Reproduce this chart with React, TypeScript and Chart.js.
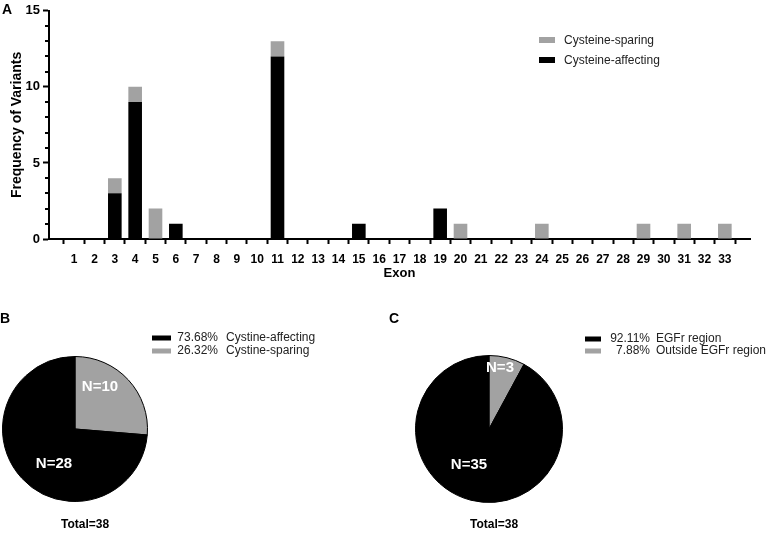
import React, { useEffect, useRef } from 'react';
import { Chart, registerables } from 'chart.js';

Chart.register(...registerables);

const FONT = '"Liberation Sans", Arial, Helvetica, sans-serif';
Chart.defaults.font.family = FONT;

// ---------- data ----------
const exons = [1, 2, 3, 4, 5, 6, 7, 8, 9, 10, 11, 12, 13, 14, 15, 16, 17, 18, 19, 20, 21, 22, 23, 24, 25, 26, 27, 28, 29, 30, 31, 32, 33];
const cysteineAffecting = [0, 0, 3, 9, 0, 1, 0, 0, 0, 0, 12, 0, 0, 0, 1, 0, 0, 0, 2, 0, 0, 0, 0, 0, 0, 0, 0, 0, 0, 0, 0, 0, 0];
const cysteineSparing = [0, 0, 1, 1, 2, 0, 0, 0, 0, 0, 1, 0, 0, 0, 0, 0, 0, 0, 0, 1, 0, 0, 0, 1, 0, 0, 0, 0, 1, 0, 1, 0, 1];
const yMajorTicks = [0, 5, 10, 15];
const yMax = 15;

const pieBLabels = ['Cystine-sparing', 'Cystine-affecting'];
const pieBValues = [10, 28];
const pieBPercents = ['26.32%', '73.68%'];

const pieCLabels = ['Outside EGFr region', 'EGFr region'];
const pieCValues = [3, 35];
const pieCPercents = ['7.88%', '92.11%'];

// ---------- styles ----------
const BLACK = '#000000';
const GRAY = '#a2a2a2';
const TEXT = '#222222';

function drawText(ctx: CanvasRenderingContext2D, text: string, x: number, y: number, font: string, color: string, align: CanvasTextAlign = 'left') {
  ctx.save();
  ctx.font = font;
  ctx.fillStyle = color;
  ctx.textAlign = align;
  ctx.textBaseline = 'middle';
  ctx.fillText(text, x, y);
  ctx.restore();
}

const minorTicksPlugin = {
  id: 'minorTicks',
  afterDraw(chart: any) {
    const y = chart.scales.y;
    const left = chart.chartArea.left;
    const ctx = chart.ctx;
    ctx.save();
    ctx.strokeStyle = '#000';
    ctx.lineWidth = 2;
    for (let v = 0; v <= yMax; v++) {
      if (yMajorTicks.includes(v)) continue;
      const py = Math.round(y.getPixelForValue(v));
      ctx.beginPath();
      ctx.moveTo(left - 4, py);
      ctx.lineTo(left, py);
      ctx.stroke();
    }
    ctx.restore();
  },
};

const barLegendPlugin = {
  id: 'barLegend',
  afterDraw(chart: any) {
    const ctx = chart.ctx;
    const sets = [...chart.data.datasets].reverse();
    sets.forEach((ds: any, i: number) => {
      const cy = 40 + i * 20;
      ctx.save();
      ctx.fillStyle = ds.backgroundColor;
      ctx.fillRect(539, cy - 3, 16, 6);
      ctx.restore();
      drawText(ctx, ds.label, 564, cy + 1, `12px ${FONT}`, TEXT);
    });
    drawText(ctx, 'A', 2, 10, `bold 14px ${FONT}`, '#000');
  },
};

function BarPanel() {
  const ref = useRef<HTMLCanvasElement>(null);
  useEffect(() => {
    const mk = (label: string, values: number[], color: string) => ({
      label,
      data: exons.map((x, i) => ({ x, y: values[i] })),
      backgroundColor: color,
      borderWidth: 0,
      barPercentage: 0.67,
      categoryPercentage: 1,
    });
    const chart = new Chart(ref.current!, {
      type: 'bar',
      data: {
        datasets: [mk('Cysteine-affecting', cysteineAffecting, BLACK), mk('Cysteine-sparing', cysteineSparing, GRAY)] as any,
      },
      options: {
        animation: false,
        responsive: false,
        maintainAspectRatio: false,
        layout: { padding: { top: 8, right: 22, left: 0, bottom: 0 } },
        plugins: { legend: { display: false }, tooltip: { enabled: false } },
        scales: {
          x: {
            type: 'linear',
            stacked: true,
            min: 0.285,
            max: 33.715,
            afterBuildTicks: (s: any) => { s.ticks = exons.map((v) => ({ value: v })); },
            afterFit: (s: any) => { s.height = 51; },
            ticks: {
              autoSkip: false,
              maxRotation: 0,
              padding: 8,
              color: '#000',
              font: { size: 12, weight: 'bold' },
              callback: (v: any) => String(v),
            },
            grid: { drawOnChartArea: false, tickLength: 5, tickWidth: 2, tickColor: '#000' },
            border: { color: '#000', width: 2 },
            title: { display: true, text: 'Exon', color: '#000', font: { size: 13, weight: 'bold' }, padding: { top: 0, bottom: 9 } },
          },
          y: {
            stacked: true,
            min: 0,
            max: yMax,
            afterBuildTicks: (s: any) => { s.ticks = Array.from({ length: yMax + 1 }, (_, i) => ({ value: i })); },
            afterFit: (s: any) => { s.width = 49; },
            ticks: {
              autoSkip: false,
              padding: 3,
              color: '#000',
              font: { size: 13, weight: 'bold' },
              callback: (v: any) => (yMajorTicks.includes(Number(v)) ? String(v) : ''),
            },
            grid: {
              drawOnChartArea: false,
              tickLength: 6,
              tickWidth: 2,
              tickColor: (c: any) => (c.tick && yMajorTicks.includes(c.tick.value) ? '#000' : 'rgba(0,0,0,0)'),
            },
            border: { color: '#000', width: 2 },
            title: { display: true, text: 'Frequency of Variants', color: '#000', font: { size: 14, weight: 'bold' }, padding: { top: 9, bottom: 0 } },
          },
        },
      } as any,
      plugins: [minorTicksPlugin, barLegendPlugin],
    });
    return () => chart.destroy();
  }, []);
  return <canvas ref={ref} width={772} height={290} style={{ position: 'absolute', left: 0, top: 0, width: 772, height: 290 }} />;
}

type PieProps = {
  left: number;
  width: number;
  labels: string[];
  values: number[];
  percents: string[];
  padding: { left: number; right: number; top: number; bottom: number };
  labelOffsets: { x: number; y: number }[];
  legend: { boxX: number; boxW: number; boxH: number; rowY: number[]; pctRight: number; nameX: number };
  letter: { text: string; x: number; y: number };
  totalPos: { x: number; y: number };
};

function PiePanel(p: PieProps) {
  const ref = useRef<HTMLCanvasElement>(null);
  useEffect(() => {
    const colors = [GRAY, BLACK];
    const piePlugin = {
      id: 'pieDecor',
      afterDraw(chart: any) {
        const ctx = chart.ctx;
        const meta = chart.getDatasetMeta(0);
        meta.data.forEach((arc: any, i: number) => {
          drawText(ctx, `N=${p.values[i]}`, arc.x + p.labelOffsets[i].x, arc.y + p.labelOffsets[i].y, `bold 15px ${FONT}`, '#ffffff', 'center');
        });
        const order = p.values.map((_, i) => i).reverse();
        order.forEach((idx, row) => {
          const cy = p.legend.rowY[row];
          ctx.save();
          ctx.fillStyle = colors[idx];
          ctx.fillRect(p.legend.boxX, cy - p.legend.boxH / 2, p.legend.boxW, p.legend.boxH);
          ctx.restore();
          drawText(ctx, p.percents[idx], p.legend.pctRight, cy, `12px ${FONT}`, TEXT, 'right');
          drawText(ctx, p.labels[idx], p.legend.nameX, cy, `12px ${FONT}`, TEXT, 'left');
        });
        const total = p.values.reduce((a, b) => a + b, 0);
        drawText(ctx, `Total=${total}`, p.totalPos.x, p.totalPos.y, `bold 12px ${FONT}`, '#000', 'center');
        drawText(ctx, p.letter.text, p.letter.x, p.letter.y, `bold 14px ${FONT}`, '#000', 'left');
      },
    };
    const chart = new Chart(ref.current!, {
      type: 'pie',
      data: {
        labels: p.labels,
        datasets: [{ data: p.values, backgroundColor: colors, borderColor: '#000', borderWidth: 1 }],
      },
      options: {
        animation: false,
        responsive: false,
        maintainAspectRatio: false,
        layout: { padding: p.padding },
        plugins: { legend: { display: false }, tooltip: { enabled: false } },
      } as any,
      plugins: [piePlugin],
    });
    return () => chart.destroy();
  }, []);
  return <canvas ref={ref} width={p.width} height={234} style={{ position: 'absolute', left: p.left, top: 300, width: p.width, height: 234 }} />;
}

export default function App() {
  return (
    <div style={{ position: 'absolute', left: 0, top: 0, width: 772, height: 534, background: '#fff', overflow: 'hidden' }}>
      <BarPanel />
      <PiePanel
        left={0}
        width={380}
        labels={pieBLabels}
        values={pieBValues}
        percents={pieBPercents}
        padding={{ left: 2, right: 232, top: 56, bottom: 32 }}
        labelOffsets={[{ x: 25, y: -42 }, { x: -21, y: 35 }]}
        legend={{ boxX: 152, boxW: 19, boxH: 5, rowY: [38, 51], pctRight: 218, nameX: 226 }}
        letter={{ text: 'B', x: 0, y: 19 }}
        totalPos={{ x: 85, y: 225 }}
      />
      <PiePanel
        left={380}
        width={392}
        labels={pieCLabels}
        values={pieCValues}
        percents={pieCPercents}
        padding={{ left: 35, right: 209, top: 55, bottom: 31 }}
        labelOffsets={[{ x: 11, y: -61 }, { x: -20, y: 36 }]}
        legend={{ boxX: 205, boxW: 16, boxH: 5, rowY: [39, 51], pctRight: 270, nameX: 276 }}
        letter={{ text: 'C', x: 9, y: 19 }}
        totalPos={{ x: 114, y: 225 }}
      />
    </div>
  );
}
